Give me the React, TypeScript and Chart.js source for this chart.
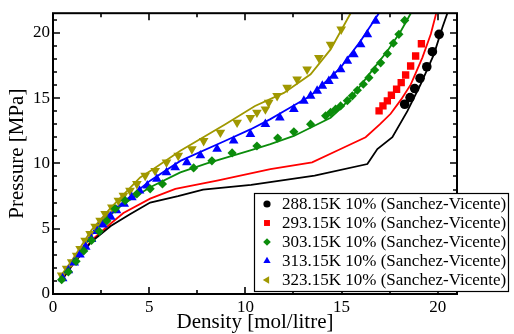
import React, { useEffect, useRef } from 'react';
import { Chart, registerables } from 'chart.js';

Chart.register(...registerables);

// ---- Experimental points (Sanchez-Vicente) ----
const LABELS = [
  '288.15K 10% (Sanchez-Vicente)',
  '293.15K 10% (Sanchez-Vicente)',
  '303.15K 10% (Sanchez-Vicente)',
  '313.15K 10% (Sanchez-Vicente)',
  '323.15K 10% (Sanchez-Vicente)',
];
const COLORS = ['#000000', '#ff0000', '#0b8c0b', '#0000ff', '#a09800'];

const P288_D = [18.28, 18.56, 18.8, 19.08, 19.43, 19.72, 20.07];
const P288_P = [14.53, 15.04, 15.73, 16.52, 17.4, 18.55, 19.88];

const P293_D = [16.95, 17.15, 17.38, 17.59, 17.86, 18.1, 18.33, 18.59, 18.85, 19.15];
const P293_P = [14.02, 14.4, 14.79, 15.22, 15.68, 16.18, 16.77, 17.46, 18.22, 19.16];

const P303_D = [0.45, 0.8, 1.2, 1.6, 2.0, 2.4, 2.8, 3.23, 3.75, 4.36, 5.05, 5.69, 7.31, 8.26, 9.31, 10.6, 11.68, 12.52, 13.39, 14.17, 14.43, 14.69, 14.95, 15.3, 15.56, 15.82, 16.13, 16.42, 16.72, 17.03, 17.38, 17.69, 17.98, 18.28];
const P303_P = [1.1, 1.7, 2.5, 3.3, 4.1, 4.8, 5.6, 6.52, 7.15, 7.66, 8.05, 8.43, 9.65, 10.2, 10.8, 11.33, 11.94, 12.42, 13.0, 13.64, 13.9, 14.15, 14.4, 14.8, 15.17, 15.6, 16.06, 16.56, 17.15, 17.7, 18.4, 19.2, 19.88, 20.95];

const P313_D = [0.5, 0.8, 1.1, 1.4, 1.7, 2.0, 2.3, 2.6, 3.0, 3.3, 3.7, 4.1, 4.5, 4.9, 5.4, 5.9, 6.35, 6.96, 7.66, 8.53, 9.39, 10.26, 11.04, 11.79, 12.52, 13.04, 13.39, 13.73, 14.0, 14.34, 14.6, 14.95, 15.3, 15.64, 15.99, 16.34, 16.77];
const P313_P = [1.2, 1.8, 2.4, 3.0, 3.6, 4.2, 4.8, 5.3, 5.9, 6.4, 6.9, 7.4, 7.9, 8.3, 8.8, 9.3, 9.69, 10.08, 10.6, 11.1, 11.73, 12.24, 13.0, 13.5, 14.15, 14.79, 15.17, 15.55, 15.93, 16.3, 16.7, 17.2, 17.84, 18.35, 19.1, 19.88, 20.9];

const P323_D = [0.45, 0.71, 0.97, 1.23, 1.41, 1.67, 1.93, 2.19, 2.45, 2.71, 3.06, 3.4, 3.66, 4.0, 4.36, 4.79, 5.31, 5.9, 6.51, 7.22, 7.83, 8.7, 9.57, 10.26, 10.6, 11.04, 11.21, 11.65, 12.17, 12.69, 13.21, 13.82, 14.43, 14.98];
const P323_P = [1.43, 1.94, 2.44, 2.95, 3.47, 4.1, 4.61, 5.17, 5.63, 6.14, 6.64, 7.15, 7.53, 7.92, 8.43, 9.06, 9.44, 10.08, 10.6, 11.1, 11.73, 12.37, 13.13, 13.5, 13.9, 14.15, 14.66, 15.17, 15.8, 16.44, 17.2, 18.09, 19.1, 20.26];

// ---- Model curves ----
const L288_D = [0.45, 1, 2, 3, 4, 5.05, 6.5, 7.8, 10.3, 13.6, 16.34, 16.86, 17.64, 18.42, 19.11, 19.8, 20.24, 20.5];
const L288_P = [1.05, 2.2, 4.0, 5.2, 6.1, 7.0, 7.5, 8.0, 8.35, 9.06, 9.95, 11.1, 12.0, 14.0, 16.06, 18.35, 20.4, 21.5];

const L293_D = [0.45, 1, 2, 3, 3.66, 5.05, 6.36, 8.53, 11.3, 13.47, 14.95, 16.25, 17.0, 17.55, 18.1, 18.6, 19.2, 19.64, 19.92];
const L293_P = [1.05, 2.2, 4.1, 5.4, 6.2, 7.3, 8.05, 8.68, 9.57, 10.08, 11.1, 12.0, 13.0, 13.8, 14.9, 16.05, 18.1, 19.9, 21.5];

const L303_D = [0.43, 1, 2, 2.45, 3.66, 5.05, 6.62, 8, 10.26, 11.3, 12.52, 14.43, 14.95, 15.64, 16.5, 17.38, 18.07, 18.6];
const L303_P = [1.05, 2.3, 4.5, 5.4, 6.9, 8.17, 9.31, 10.0, 11.0, 11.48, 12.1, 13.5, 14.2, 15.3, 16.95, 18.6, 20.1, 21.5];

const L313_D = [0.45, 1, 2, 2.45, 3.32, 5.05, 6.62, 8.96, 10.26, 11.3, 12, 13.39, 14.95, 15.99, 16.94];
const L313_P = [1.1, 2.35, 4.6, 5.55, 6.64, 8.68, 10.19, 11.73, 12.6, 13.39, 14.0, 15.17, 17.33, 19.37, 21.5];

const L323_D = [0.36, 1, 2, 3, 4.53, 5.22, 6.62, 8.96, 10.5, 12, 13.39, 14.43, 15.47];
const L323_P = [1.3, 2.6, 4.9, 6.6, 8.93, 9.57, 10.97, 13.0, 14.4, 15.4, 16.82, 18.73, 21.5];

const X_MIN = 0, X_MAX = 21, X_STEP = 5, X_MINOR = 2.5;
const Y_MIN = 0, Y_MAX = 21.5, Y_STEP = 5, Y_MINOR = 1;

const POINT_SETS = [
  [P288_D, P288_P],
  [P293_D, P293_P],
  [P303_D, P303_P],
  [P313_D, P313_P],
  [P323_D, P323_P],
];
const LINE_SETS = [
  [L288_D, L288_P],
  [L293_D, L293_P],
  [L303_D, L303_P],
  [L313_D, L313_P],
  [L323_D, L323_P],
];
const STYLES: any[] = [
  { pointStyle: 'circle', r: 4.8, rot: 0, lr: 3.6, lrot: 0 },
  { pointStyle: 'rect', r: 5.2, rot: 0, lr: 4.2, lrot: 0 },
  { pointStyle: 'rectRot', r: 4.6, rot: 0, lr: 3.8, lrot: 0 },
  { pointStyle: 'triangle', r: 5.6, rot: 0, lr: 4.2, lrot: 0 },
  { pointStyle: 'triangle', r: 5.6, rot: 180, lr: 4.2, lrot: 270 },
];

const FONT = "'Liberation Serif', 'Times New Roman', serif";

const toXY = (d: number[], p: number[]) => d.map((v, i) => ({ x: v, y: p[i] }));

function drawMarker(ctx: CanvasRenderingContext2D, style: string, x: number, y: number, r: number, rot: number) {
  ctx.save();
  ctx.translate(x, y);
  ctx.rotate((rot * Math.PI) / 180);
  ctx.beginPath();
  if (style === 'circle') {
    ctx.arc(0, 0, r, 0, Math.PI * 2);
  } else if (style === 'rect') {
    const s = r * Math.SQRT1_2;
    ctx.rect(-s, -s, 2 * s, 2 * s);
  } else if (style === 'rectRot') {
    ctx.moveTo(0, -r); ctx.lineTo(r, 0); ctx.lineTo(0, r); ctx.lineTo(-r, 0); ctx.closePath();
  } else {
    const h = r;
    ctx.moveTo(0, -h);
    ctx.lineTo(h * Math.sin(Math.PI / 3), h * 0.5);
    ctx.lineTo(-h * Math.sin(Math.PI / 3), h * 0.5);
    ctx.closePath();
  }
  ctx.fill();
  ctx.restore();
}

const framePlugin = {
  id: 'frameTicks',
  afterDraw(chart: any) {
    const { ctx, chartArea } = chart;
    const { left, right, top, bottom } = chartArea;
    const xs = chart.scales.x;
    const ys = chart.scales.y;
    ctx.save();
    ctx.strokeStyle = '#000';
    ctx.lineWidth = 2;
    ctx.strokeRect(left, top, right - left, bottom - top);
    ctx.lineWidth = 1.6;
    ctx.beginPath();
    for (let v = X_MIN; v <= X_MAX + 1e-9; v += X_MINOR) {
      const px = Math.round(xs.getPixelForValue(v));
      const major = Math.abs(v / X_STEP - Math.round(v / X_STEP)) < 1e-6;
      const len = major ? 7 : 4;
      ctx.moveTo(px, bottom); ctx.lineTo(px, bottom - len);
      ctx.moveTo(px, top); ctx.lineTo(px, top + len);
    }
    for (let v = Y_MIN; v <= Y_MAX + 1e-9; v += Y_MINOR) {
      const py = Math.round(ys.getPixelForValue(v));
      const major = Math.abs(v / Y_STEP - Math.round(v / Y_STEP)) < 1e-6;
      const len = major ? 7 : 4;
      ctx.moveTo(left, py); ctx.lineTo(left + len, py);
      ctx.moveTo(right, py); ctx.lineTo(right - len, py);
    }
    ctx.stroke();

    // Legend
    const bx = 254, by = 193, bw = 255, bh = 99;
    ctx.fillStyle = '#fff';
    ctx.fillRect(bx, by, bw, bh);
    ctx.lineWidth = 1.2;
    ctx.strokeRect(bx + 0.5, by + 0.5, bw - 1, bh - 1);
    ctx.font = `17px ${FONT}`;
    ctx.textBaseline = 'middle';
    ctx.textAlign = 'left';
    LABELS.forEach((lab, i) => {
      const y = by + 11 + i * 19;
      ctx.fillStyle = COLORS[i];
      drawMarker(ctx, STYLES[i].pointStyle, bx + 13, y, STYLES[i].lr, STYLES[i].lrot);
      ctx.fillStyle = '#000';
      ctx.fillText(lab, bx + 28, y + 1);
    });
    ctx.restore();
  },
};

export default function App() {
  const ref = useRef<HTMLCanvasElement>(null);
  useEffect(() => {
    if (!ref.current) return;
    const datasets: any[] = [];
    LINE_SETS.forEach(([d, p], i) => {
      datasets.push({
        label: 'model ' + LABELS[i],
        data: toXY(d, p),
        showLine: true,
        borderColor: COLORS[i],
        backgroundColor: COLORS[i],
        borderWidth: 1.8,
        pointRadius: 0,
        tension: 0,
        clip: 0,
        order: 10,
      });
    });
    POINT_SETS.forEach(([d, p], i) => {
      datasets.push({
        label: LABELS[i],
        data: toXY(d, p),
        showLine: false,
        pointStyle: STYLES[i].pointStyle,
        pointRotation: STYLES[i].rot,
        pointRadius: STYLES[i].r,
        pointBorderWidth: 0,
        borderWidth: 0,
        pointBackgroundColor: COLORS[i],
        backgroundColor: COLORS[i],
        borderColor: COLORS[i],
        order: 1,
      });
    });
    const chart = new Chart(ref.current, {
      type: 'scatter',
      data: { datasets },
      options: {
        animation: false,
        responsive: false,
        devicePixelRatio: 1,
        layout: { padding: { left: 0, top: 12, right: 57, bottom: 0 } },
        plugins: { legend: { display: false }, tooltip: { enabled: false } },
        scales: {
          x: {
            type: 'linear',
            min: X_MIN,
            max: X_MAX,
            grid: { display: false, drawTicks: false },
            border: { display: false },
            ticks: { stepSize: X_STEP, includeBounds: false, padding: 3, color: '#000', font: { family: FONT, size: 17 } },
            title: { display: true, text: 'Density [mol/litre]', color: '#000', font: { family: FONT, size: 21 }, padding: { top: 0, bottom: -1 } },
            afterFit: (s: any) => { s.height = 40; },
          },
          y: {
            type: 'linear',
            min: Y_MIN,
            max: Y_MAX,
            grid: { display: false, drawTicks: false },
            border: { display: false },
            ticks: { stepSize: Y_STEP, includeBounds: false, padding: 3, color: '#000', font: { family: FONT, size: 17 } },
            title: { display: true, text: 'Pressure [MPa]', color: '#000', font: { family: FONT, size: 21 }, padding: { top: 5, bottom: 0 } },
            afterFit: (s: any) => { s.width = 53; },
          },
        },
      },
      plugins: [framePlugin],
    } as any);
    return () => chart.destroy();
  }, []);
  return (
    <div style={{ position: 'absolute', left: 0, top: 0, width: 514, height: 334, background: '#fff' }}>
      <canvas ref={ref} width={514} height={334} style={{ width: 514, height: 334, display: 'block' }} />
    </div>
  );
}
